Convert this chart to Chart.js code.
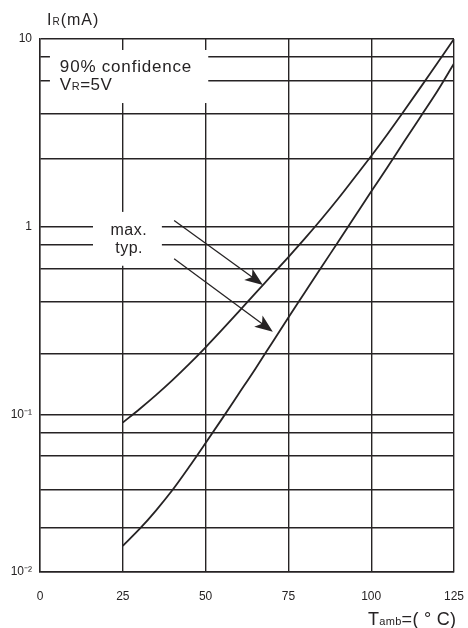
<!DOCTYPE html>
<html>
<head>
<meta charset="utf-8">
<script src="https://cdn.jsdelivr.net/npm/chart.js@4/dist/chart.umd.min.js"></script>
<style>
html, body { margin: 0; padding: 0; background: #fff; }
canvas { display: block; }
</style>
</head>
<body>
<canvas id="chart" width="468" height="628"></canvas>
<script>
// Datos (Tamb en °C, IR en mA)
const temps = [25, 30, 35, 40, 45, 50, 55, 60, 65, 70, 75, 80, 85, 90, 95, 100, 105, 110, 115, 120, 125];
const maxCurrent = [0.0906, 0.1067, 0.1268, 0.1524, 0.1854, 0.228, 0.283, 0.353, 0.442, 0.552, 0.690, 0.867, 1.10, 1.41, 1.83, 2.38, 3.13, 4.16, 5.56, 7.46, 10];
const typCurrent = [0.0200, 0.0245, 0.0308, 0.0396, 0.0525, 0.0705, 0.0951, 0.129, 0.175, 0.240, 0.329, 0.448, 0.610, 0.830, 1.13, 1.54, 2.09, 2.85, 3.88, 5.28, 7.4];

const xTicks = [0, 25, 50, 75, 100, 125];
const yGrid = [0.0145, 0.025, 0.04, 0.06, 0.08, 0.1, 0.21, 0.4, 0.6, 0.8, 1, 2.3, 4, 6, 8, 10];
const yLabelValues = [0.0145, 0.1, 1, 10];
const yLabelTexts = ['10⁻²', '10⁻¹', '1', '10'];

// Anotaciones en coordenadas de datos
const noteBoxes = [[3, 50.8, 8.74, 4.56], [16, 36.8, 1.2, 0.62]];
const arrows = [[40.5, 1.08, 67.3, 0.49], [40.5, 0.676, 70.3, 0.276]];

const ink = '#262324';
const fontFamily = '"Liberation Sans", Arial, sans-serif';

// dibuja texto con partes de distinto tamaño (subíndices)
function richText(ctx, parts, x, y, spacing) {
	ctx.letterSpacing = spacing + 'px';
	parts.forEach(([text, size]) => {
		ctx.font = size + 'px ' + fontFamily;
		ctx.fillText(text, x, y);
		x += ctx.measureText(text).width;
	});
	ctx.letterSpacing = '0px';
}

const annotations = {
	id: 'annotations',
	beforeDatasetsDraw(chart) {
		const { ctx, scales: { x, y } } = chart;
		ctx.save();
		ctx.fillStyle = '#fff';
		noteBoxes.forEach(([t0, t1, a0, a1]) => {
			const px0 = x.getPixelForValue(t0), px1 = x.getPixelForValue(t1);
			const py0 = y.getPixelForValue(a0), py1 = y.getPixelForValue(a1);
			ctx.fillRect(px0, py0, px1 - px0, py1 - py0);
		});
		ctx.restore();
	},
	afterDatasetsDraw(chart) {
		const { ctx, chartArea, scales: { x, y } } = chart;
		ctx.save();
		ctx.fillStyle = ink;
		ctx.strokeStyle = ink;
		ctx.textBaseline = 'alphabetic';

		// flechas
		arrows.forEach(([t0, a0, t1, a1]) => {
			const x0 = x.getPixelForValue(t0), y0 = y.getPixelForValue(a0);
			const x1 = x.getPixelForValue(t1), y1 = y.getPixelForValue(a1);
			const ang = Math.atan2(y1 - y0, x1 - x0);
			const len = 18, half = 7;
			ctx.lineWidth = 1.3;
			ctx.beginPath();
			ctx.moveTo(x0, y0);
			ctx.lineTo(x1 - Math.cos(ang) * len * 0.6, y1 - Math.sin(ang) * len * 0.6);
			ctx.stroke();
			const bx = x1 - Math.cos(ang) * len, by = y1 - Math.sin(ang) * len;
			ctx.beginPath();
			ctx.moveTo(x1, y1);
			ctx.lineTo(bx - Math.sin(ang) * half, by + Math.cos(ang) * half);
			ctx.lineTo(x1 - Math.cos(ang) * len * 0.75, y1 - Math.sin(ang) * len * 0.75);
			ctx.lineTo(bx + Math.sin(ang) * half, by - Math.cos(ang) * half);
			ctx.closePath();
			ctx.fill();
		});

		// textos
		richText(ctx, [['90% confidence', 17]], x.getPixelForValue(6), y.getPixelForValue(6.68), 0.8);
		richText(ctx, [['V', 17], ['R', 11], ['=5V', 17]], x.getPixelForValue(6), y.getPixelForValue(5.35), 0.5);
		richText(ctx, [['max.', 16]], x.getPixelForValue(21.3), y.getPixelForValue(0.907), 0.5);
		richText(ctx, [['typ.', 16]], x.getPixelForValue(22.7), y.getPixelForValue(0.727), 0.5);

		// títulos de ejes
		richText(ctx, [['I', 16], ['R', 10], ['(mA)', 16]], chartArea.left + 7, chartArea.top - 14, 1);
		richText(ctx, [['T', 18], ['amb', 11], ['=( ° C)', 18]], chartArea.right - 86, 625, 0.3);
		ctx.restore();
	}
};

const lineStyle = {
	borderColor: ink,
	borderWidth: 1.8,
	pointRadius: 0,
	cubicInterpolationMode: 'monotone',
	fill: false
};

const gridStyle = { color: ink, lineWidth: 1.4, drawTicks: false };
const tickFont = { family: fontFamily, size: 12 };

const config = {
	type: 'line',
	data: {
		datasets: [
			{ label: 'max.', data: temps.map((t, i) => ({ x: t, y: maxCurrent[i] })), ...lineStyle },
			{ label: 'typ.', data: temps.map((t, i) => ({ x: t, y: typCurrent[i] })), ...lineStyle }
		]
	},
	options: {
		responsive: false,
		animation: false,
		devicePixelRatio: 1,
		layout: { padding: { top: 39, right: 14, left: 0, bottom: 0 } },
		plugins: { legend: { display: false }, tooltip: { enabled: false } },
		scales: {
			x: {
				type: 'linear',
				min: 0,
				max: 125,
				afterBuildTicks: (s) => { s.ticks = xTicks.map((v) => ({ value: v })); },
				afterFit: (s) => {
					s.height = 56;
					s.paddingLeft = 0;
					s.paddingRight = 0;
				},
				grid: gridStyle,
				border: { color: ink, width: 1.4 },
				ticks: { padding: 17, font: tickFont, color: ink, maxRotation: 0, autoSkip: false }
			},
			y: {
				type: 'logarithmic',
				min: yGrid[0],
				max: 10,
				afterBuildTicks: (s) => { s.ticks = yGrid.map((v) => ({ value: v })); },
				afterFit: (s) => { s.width = 40; },
				grid: gridStyle,
				border: { color: ink, width: 1.4 },
				ticks: {
					padding: 8,
					font: tickFont,
					color: ink,
					autoSkip: false,
					callback: (v) => {
						const i = yLabelValues.indexOf(v);
						return i >= 0 ? yLabelTexts[i] : '';
					}
				}
			}
		}
	},
	plugins: [annotations]
};

const canvas = document.getElementById('chart');
new Chart(canvas, config);
</script>
</body>
</html>
